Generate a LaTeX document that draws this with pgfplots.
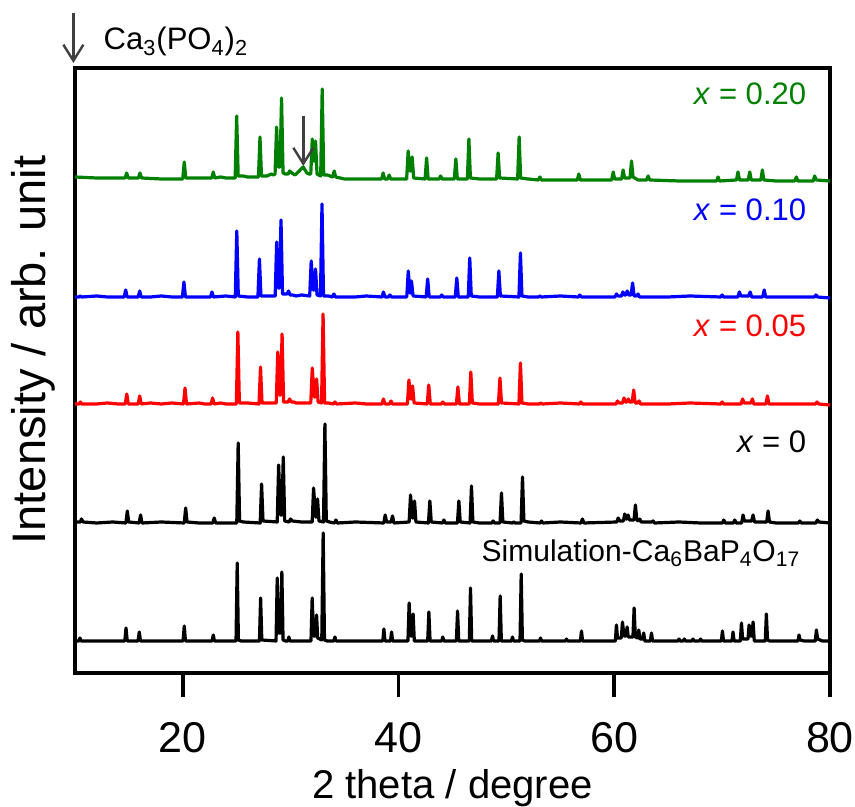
\documentclass[border=0pt]{standalone}
\usepackage{fontspec}
\setmainfont{Liberation Sans}
\usepackage{pgfplots}
\pgfplotsset{compat=1.18}
\usetikzlibrary{arrows.meta}
\definecolor{og}{RGB}{0,128,0}
\definecolor{ag}{RGB}{64,64,64}
\newlength\pu
\setlength\pu{0.0175439cm}
\begin{document}
\begin{tikzpicture}
\path[use as bounding box] (-75\pu,-134\pu) rectangle (780\pu,673\pu);
\begin{axis}[
  scale only axis, width=755\pu, height=605\pu,
  xmin=10, xmax=80, ymin=0, ymax=605,
  clip=false,
  axis line style={line width=2pt},
  xtick={20,40,60,80}, ytick=\empty,
  xtick pos=bottom, tick align=outside,
  major tick length=24\pu,
  xtick style={draw=black, line width=1.8pt},
  /pgf/number format/assume math mode=true,
  xticklabel style={font=\fontsize{21.5}{21.5}\selectfont, yshift=-18\pu},
  xlabel={2 theta / degree},
  xlabel style={font=\fontsize{20}{20}\selectfont, at={(axis description cs:0.5,0)}, anchor=center, yshift=-115\pu},
  ylabel={Intensity / arb. unit},
  ylabel style={font=\fontsize{23.5}{23.5}\selectfont, at={(axis description cs:-0.055,0.534)}, anchor=center},
  every axis plot/.append style={line width=1.6pt, line join=round},
]
% Simulation Ca6BaP4O17
\addplot[black, y filter/.expression={y+32}] coordinates {
(10,0)
(10.36,0)(10.46,3)(10.56,0)
(14.62,0)(14.73,13)(14.84,0)
(15.85,0)(15.96,9)(16.07,0)
(20.02,0)(20.13,15)(20.24,0)
(22.71,0)(22.82,6)(22.93,0)
(24.93,0)(25.04,78)(25.15,1)(25.4,0)
(27.10,0)(27.21,43)(27.32,1)
(28.64,0)(28.75,63)(28.9,8)(29.07,8)(29.18,69)(29.29,1)(29.5,0)
(29.74,0)(29.83,4)(29.92,0)
(31.88,0)(31.99,43)(32.12,5)(32.3,5)(32.40,26)(32.5,3)(32.88,1)(33.01,108)(33.13,1)(33.4,0)
(34.00,0)(34.10,4)(34.20,0)
(38.54,0)(38.64,12)(38.74,0)
(39.25,0)(39.35,9)(39.45,0)
(40.87,0)(40.98,38)(41.12,5)(41.25,5)(41.35,27)(41.46,0)
(42.70,0)(42.81,29)(42.92,0)
(44.00,0)(44.10,4)(44.20,0)
(45.36,0)(45.47,30)(45.58,0)
(46.56,0)(46.67,53)(46.78,0)
(48.61,0)(48.71,5)(48.81,0)
(49.31,0)(49.42,45)(49.53,0)
(50.46,0)(50.56,4)(50.66,0)
(51.26,0)(51.37,67)(51.48,1)(51.7,0)
(53.06,0)(53.16,3)(53.26,0)
(55.47,0)(55.57,2)(55.67,0)
(56.86,0)(56.96,10)(57.06,0)
(60.10,0)(60.20,16)(60.3,3)(60.65,3)(60.76,19)(60.9,5)(61.08,5)(61.19,14)(61.3,4)(61.73,4)(61.84,33)(61.95,4)(62.16,3)(62.27,11)(62.38,2)(62.63,2)(62.73,8)(62.83,0)
(63.35,0)(63.45,8)(63.55,0)
(65.9,0)(66.0,2)(66.1,0)(66.4,0)(66.5,2)(66.6,0)(67.2,0)(67.3,2)(67.4,0)(67.9,0)(68.0,2)(68.1,0)
(69.93,0)(70.03,10)(70.13,0)
(70.91,0)(71.01,9)(71.11,0)
(71.69,0)(71.79,18)(71.9,2)(72.4,2)(72.50,16)(72.62,5)(72.77,5)(72.87,19)(72.98,0)
(74.00,0)(74.10,27)(74.21,1)(74.4,0)
(77.03,0)(77.13,6)(77.23,1)(77.6,0)
(78.64,0)(78.74,11)(78.85,2)(79.3,0)
(80,0)
};
% x = 0
\addplot[black, y filter/.expression={y+150}] coordinates {
(10,1)(10.5,1)(10.6,4)(10.75,1)(12,0)(13.5,1)
(14.72,0)(14.85,12)(14.98,1)
(15.95,0)(16.08,8)(16.21,0)(18,1)
(20.13,0)(20.26,15)(20.39,1)(21.5,0)
(22.78,0)(22.91,5)(23.04,0)
(25.0,0)(25.13,80)(25.26,2)(25.6,1)
(27.17,0)(27.30,39)(27.43,2)
(28.75,1)(28.88,58)(29.05,8)(29.18,8)(29.31,66)(29.44,2)
(29.86,1)(29.99,4)(30.15,2)(31.0,1)
(31.99,1)(32.12,35)(32.3,6)(32.36,6)(32.49,24)(32.62,2)(33.04,1)(33.17,99)(33.30,2)(33.6,1)
(34.06,0)(34.19,3)(34.32,0)(36,1)
(38.63,0)(38.76,8)(38.89,1)(39.31,1)(39.44,7)(39.57,0)
(40.98,1)(41.11,28)(41.28,5)(41.35,5)(41.48,22)(41.61,1)
(42.77,0)(42.90,22)(43.03,1)
(44.07,0)(44.20,3)(44.33,0)
(45.46,0)(45.59,22)(45.72,1)
(46.63,0)(46.76,37)(46.89,1)(47.5,0)
(48.64,0)(48.77,2)(48.90,0)
(49.41,0)(49.54,30)(49.67,1)
(50.55,0)(50.68,1)(50.81,0)
(51.36,0)(51.49,46)(51.62,2)(52,1)
(53.12,0)(53.25,2)(53.38,0)(55,1)
(56.92,0)(57.05,4)(57.18,0)
(60.23,1)(60.36,5)(60.5,2)(60.84,2)(60.97,9)(61.1,4)(61.15,4)(61.28,8)(61.4,3)(61.83,3)(61.96,18)(62.09,3)(62.23,2)(62.36,4)(62.49,1)
(63.47,1)(63.60,2)(63.73,0)(66,1)(68,0)
(70.02,0)(70.15,3)(70.28,0)
(71.04,0)(71.17,3)(71.30,0)
(71.81,0)(71.94,8)(72.07,2)(72.74,2)(72.87,8)(73.0,1)
(74.13,1)(74.26,12)(74.39,1)(75,0)
(77.07,0)(77.20,2)(77.33,0)
(78.70,0)(78.83,3)(78.96,1)(80,0)
};
% x = 0.05
\addplot[red, y filter/.expression={y+268}] coordinates {
(10,1)(10.38,1)(10.5,3)(10.62,1)(12,1)(13,2)(14,1)
(14.66,1)(14.8,11)(14.94,1)
(15.86,1)(16.0,9)(16.14,1)(17,2)(18,1)(19,2)
(20.06,1)(20.2,17)(20.34,1)(21.5,2)(22,1)
(22.62,1)(22.76,7)(22.9,1)(23.5,2)(24,1)
(24.96,1)(25.1,73)(25.24,2)(26,2)
(27.06,1)(27.2,38)(27.34,2)(28,2)
(28.66,2)(28.8,53)(28.95,10)(29.06,10)(29.2,71)(29.34,3)
(29.76,3)(29.9,6)(30.05,3)(30.3,3)(30.5,2)(31,2)
(31.86,2)(32.0,37)(32.18,8)(32.28,8)(32.4,26)(32.54,3)(32.86,2)(33.0,91)(33.14,2)(33.5,2)
(33.96,1)(34.1,3)(34.24,1)(36,2)(37,1)
(38.46,1)(38.6,6)(38.74,1)(39.16,1)(39.3,4)(39.44,1)
(40.82,1)(40.96,25)(41.12,6)(41.18,6)(41.3,19)(41.44,2)
(42.66,1)(42.8,20)(42.94,1)
(43.96,1)(44.1,3)(44.24,1)
(45.36,1)(45.5,18)(45.64,1)
(46.56,1)(46.7,33)(46.84,2)(47.5,1)
(49.26,1)(49.4,27)(49.54,2)
(51.16,1)(51.3,42)(51.44,2)(52,1)
(53.06,1)(53.2,2)(53.34,1)(55,2)
(56.76,1)(56.9,3)(57.04,1)
(60.16,1)(60.3,4)(60.44,2)(60.76,2)(60.9,7)(61.05,3)(61.16,3)(61.3,6)(61.42,3)(61.66,3)(61.8,15)(61.94,2)(62.16,2)(62.3,4)(62.44,1)
(65,1)(67,2)
(69.86,1)(70.0,3)(70.14,1)
(71.76,1)(71.9,6)(72.04,2)(72.66,2)(72.8,6)(72.94,1)
(74.06,1)(74.2,9)(74.34,1)(76,1)
(78.66,1)(78.8,3)(78.94,1)(80,0)
};
% x = 0.10
\addplot[blue, y filter/.expression={y+375}] coordinates {
(10,1)(10.38,1)(10.5,2)(10.62,1)(12,2)(13,1)
(14.56,1)(14.7,8)(14.84,1)
(15.86,1)(16.0,7)(16.14,1)(17,1)(18,2)(19,1)
(19.96,1)(20.1,16)(20.24,1)(21.5,1)
(22.56,1)(22.7,6)(22.84,1)(24,2)
(24.86,1)(25.0,67)(25.14,2)(26,1)
(26.96,1)(27.1,39)(27.24,2)(28,2)
(28.56,2)(28.7,56)(28.85,10)(28.96,10)(29.1,78)(29.24,4)
(29.66,4)(29.8,7)(29.95,3)(30.2,3)(30.5,2)(31,3)
(31.76,2)(31.9,37)(32.08,8)(32.18,8)(32.3,29)(32.44,3)(32.76,2)(32.9,94)(33.04,2)(33.5,2)
(33.86,1)(34.0,4)(34.14,1)(36,1)(37,2)
(38.46,1)(38.6,6)(38.74,1)(39.06,1)(39.2,3)(39.34,1)
(40.76,1)(40.9,27)(41.06,5)(41.1,5)(41.2,17)(41.34,2)
(42.56,1)(42.7,19)(42.84,1)
(43.86,1)(44.0,3)(44.14,1)
(45.26,1)(45.4,20)(45.54,1)
(46.46,1)(46.6,40)(46.74,2)(47.5,1)
(49.16,1)(49.3,27)(49.44,2)
(51.16,1)(51.3,45)(51.44,2)(52,1)
(52.96,1)(53.1,2)(53.24,1)(55,2)
(56.66,1)(56.8,3)(56.94,1)
(60.06,1)(60.2,4)(60.34,2)(60.66,2)(60.8,6)(60.94,3)(61.06,3)(61.2,7)(61.34,3)(61.56,3)(61.7,15)(61.84,2)(62.06,2)(62.2,4)(62.34,1)
(65,1)(67,2)
(69.86,1)(70.0,3)(70.14,1)
(71.46,1)(71.6,6)(71.74,2)(72.46,2)(72.6,6)(72.74,1)
(73.76,1)(73.9,8)(74.04,1)(76,1)
(78.56,1)(78.7,3)(78.84,1)(80,0)
};
% x = 0.20
\addplot[og, y filter/.expression={y+494}] coordinates {
(10,2)(12,1)(13.5,1)
(14.65,1)(14.79,6)(14.93,1)
(15.88,1)(16.02,6)(16.16,1)(18,0)
(19.99,0)(20.13,17)(20.27,1)(21.5,1)
(22.68,1)(22.82,7)(22.96,1)(23.5,2)(24,1)
(24.85,1)(24.99,63)(25.13,3)(25.6,3)(26,2)(26.5,2)
(27.01,2)(27.15,42)(27.29,3)(27.8,3)(28.2,5)(28.4,4)
(28.55,5)(28.69,52)(28.84,12)(29.01,12)(29.15,81)(29.29,6)
(29.5,5)(29.76,5)(29.9,8)(30.1,6)(30.4,4)(30.7,7)(31.16,12)(31.5,6)(31.7,5)
(31.86,5)(32.0,40)(32.14,18)(32.2,18)(32.3,38)(32.44,5)(32.6,4)(32.78,3)(32.92,90)(33.06,4)(33.4,4)
(33.89,2)(34.03,8)(34.17,2)(35,0)(36.5,0)(37.5,0)
(38.43,0)(38.57,6)(38.71,0)(38.99,0)(39.13,4)(39.27,0)
(40.75,0)(40.89,28)(41.05,8)(41.12,8)(41.26,22)(41.4,1)
(42.46,0)(42.6,21)(42.74,0)
(43.76,0)(43.9,3)(44.04,0)
(45.17,0)(45.31,20)(45.45,0)
(46.38,0)(46.52,40)(46.66,1)(47.5,0)
(49.09,0)(49.23,26)(49.37,1)
(51.04,0)(51.18,42)(51.32,1)(52,0)
(52.96,-1)(53.1,2)(53.24,-1)(55,-1)
(56.57,-1)(56.71,5)(56.85,-1)
(59.76,-1)(59.9,7)(60.04,0)(60.68,0)(60.82,9)(60.96,1)(61.46,1)(61.6,18)(61.74,2)(62.2,-1)
(63.0,-1)(63.14,3)(63.28,-1)(66,-2)(68,-2)
(69.48,-2)(69.62,2)(69.76,-2)
(71.33,-1)(71.47,7)(71.61,-1)(72.42,-1)(72.56,7)(72.7,-1)
(73.59,-1)(73.73,9)(73.87,-1)(75,-2)
(76.74,-2)(76.88,2)(77.02,-2)(78.44,-2)(78.58,3)(78.72,-1)(80,-2)
};
% named points for the tick marks
\coordinate (t20) at (axis cs:20,0);
\coordinate (t40) at (axis cs:40,0);
\coordinate (t60) at (axis cs:60,0);
\coordinate (t80) at (axis cs:80,0);
% labels
\node[anchor=base east, og, font=\fontsize{15.5}{18}\selectfont] at (axis cs:78.45,568) {\textit{x} = 0.20};
\node[anchor=base east, blue, font=\fontsize{15.5}{18}\selectfont] at (axis cs:78.45,452) {\textit{x} = 0.10};
\node[anchor=base east, red, font=\fontsize{15.5}{18}\selectfont] at (axis cs:78.45,336) {\textit{x} = 0.05};
\node[anchor=base east, black, font=\fontsize{15.5}{18}\selectfont] at (axis cs:78.45,220) {\textit{x} = 0};
\node[anchor=base east, black, font=\fontsize{15}{18}\selectfont] at (axis cs:77.9,111) {Simulation-Ca\textsubscript{6}BaP\textsubscript{4}O\textsubscript{17}};
\node[anchor=base west, black, font=\fontsize{15.5}{18}\selectfont] at (axis cs:12.0,623) {Ca\textsubscript{3}(PO\textsubscript{4})\textsubscript{2}};
\draw[ag, line width=1.2pt, -{Straight Barb[length=8pt,width=10pt]}] (axis cs:9.85,660) -- (axis cs:9.85,610);
\draw[ag, line width=1.2pt, -{Straight Barb[length=8pt,width=10pt]}] (axis cs:31.17,557) -- (axis cs:31.17,507);
\end{axis}
\foreach \t in {t20,t40,t60,t80} {
  \draw[black, line width=1.8pt] (\t) -- ++(0,-24\pu);
}
\end{tikzpicture}
\end{document}
